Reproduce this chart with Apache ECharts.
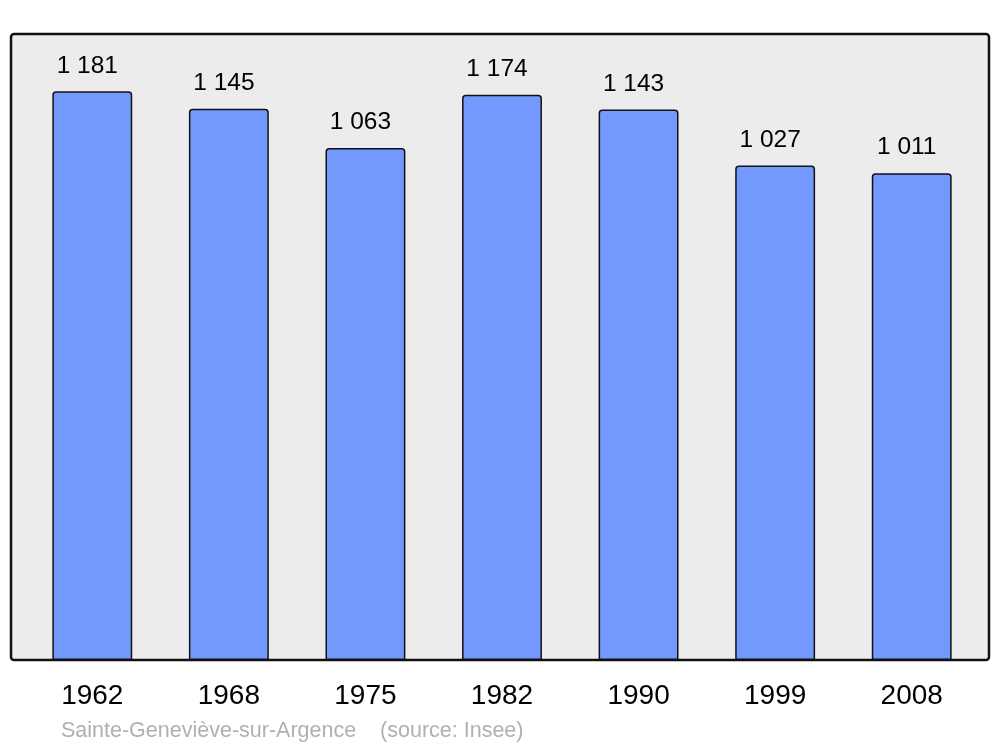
<!DOCTYPE html>
<html><head><meta charset="utf-8">
<script src="https://cdn.jsdelivr.net/npm/echarts@6/dist/echarts.min.js"></script>
<style>html,body{margin:0;padding:0;background:#fff}#c{width:1000px;height:747px}</style>
</head><body><div id="c"></div>
<script>
const years = ['1962','1968','1975','1982','1990','1999','2008'];
const population = [1181,1145,1063,1174,1143,1027,1011];
const footer = 'Sainte-Geneviève-sur-Argence    (source: Insee)';

const fmt = v => { const s = String(v); return s.length > 3 ? s.slice(0, s.length-3) + ' ' + s.slice(-3) : s; };

const chart = echarts.init(document.getElementById('c'), null, {renderer:'canvas'});
chart.setOption({
  animation: false,
  textStyle: {fontFamily: 'Liberation Sans, Arial, sans-serif'},
  graphic: [
    {type:'rect', z:-10, shape:{x:11,y:34,width:978,height:626,r:3},
     style:{fill:'#ececec', stroke:'#111', lineWidth:2.5}},
    {type:'text', left:61, top:720, style:{text:footer, fill:'#b0b0b0', fontSize:21.5, fontFamily:'Liberation Sans, Arial, sans-serif'}}
  ],
  grid: {left:24, right:20, top:34, bottom:87, containLabel:false},
  xAxis: {type:'category', data:years, axisLine:{show:false}, axisTick:{show:false},
    axisLabel:{fontSize:28, color:'#000', margin:22}},
  yAxis: {type:'value', min:0, max:1300, show:false, splitLine:{show:false}},
  series: [{
    type:'bar', data:population, barWidth:'58.5%',
    itemStyle:{color:'#7399ff', borderColor:'#111', borderWidth:1.5, borderRadius:[3,3,0,0]},
    label:{show:true, position:'top', distance:13, offset:[-5,0], fontSize:24.5, color:'#000', formatter: p => fmt(p.value)}
  }]
});
</script></body></html>
